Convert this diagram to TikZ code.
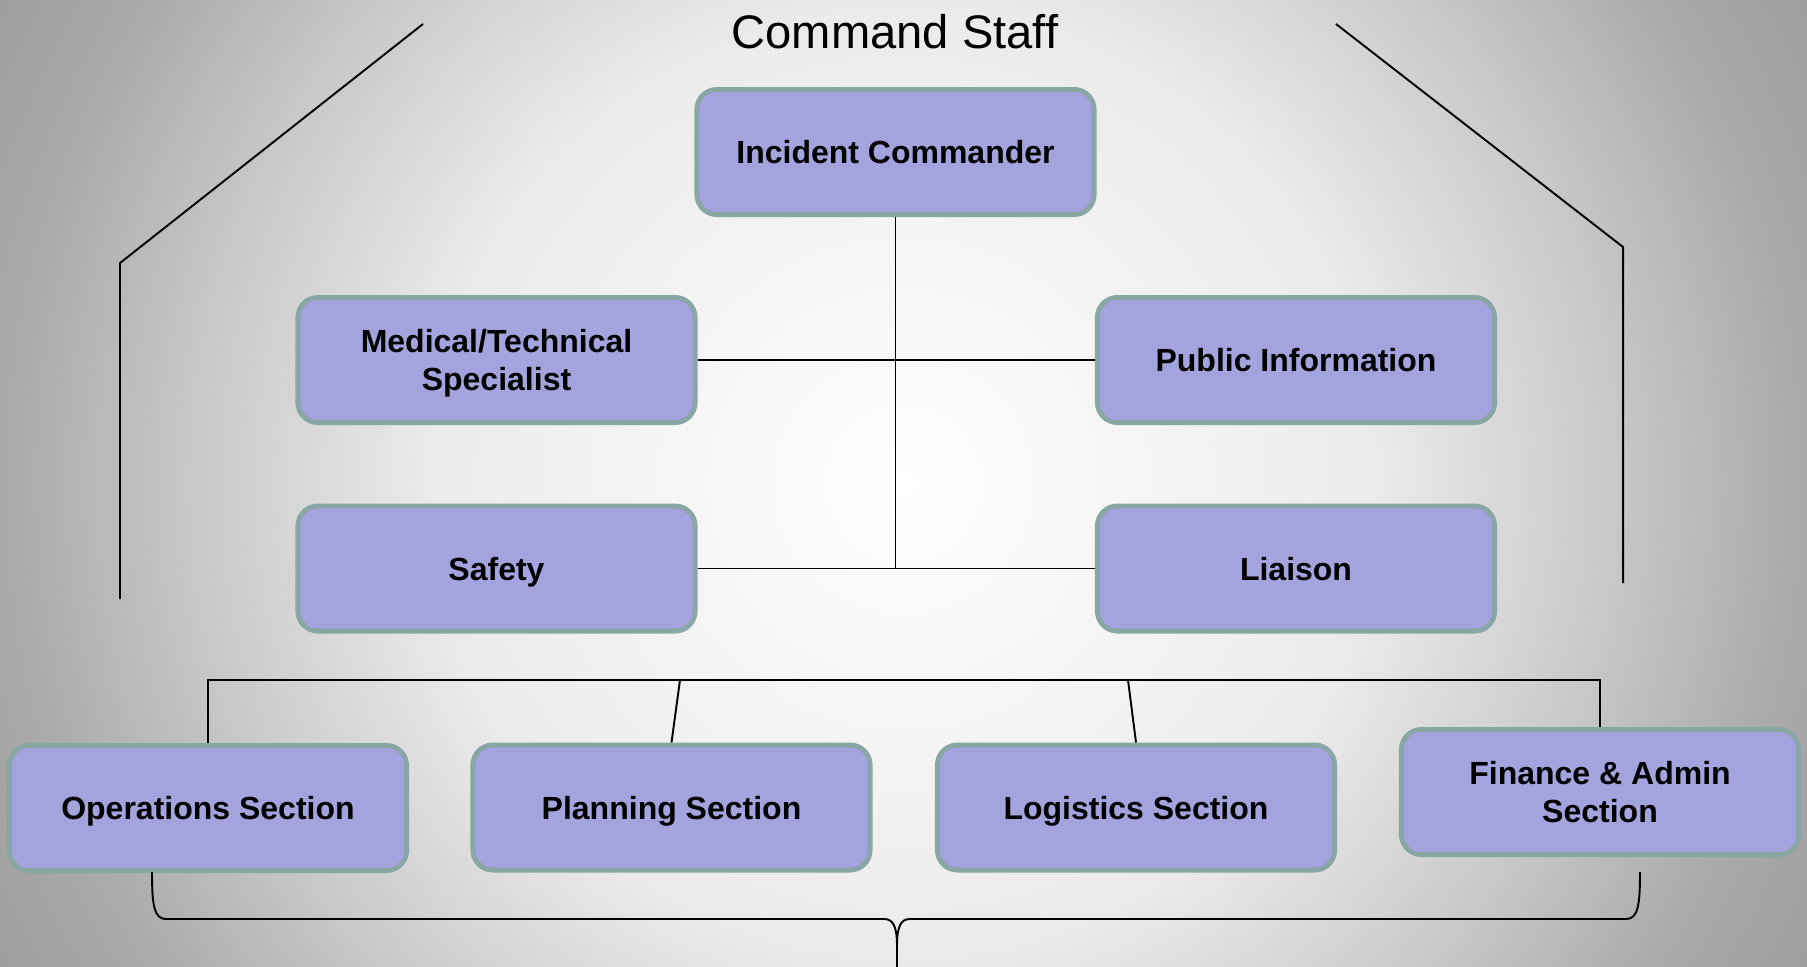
\documentclass[tikz,border=0pt]{standalone}
\usepackage{fontspec}
\setmainfont{Liberation Sans}
\usepackage{tikz}
\usetikzlibrary{positioning}
\usepackage{xcolor}

\definecolor{boxfill}{RGB}{163,163,222}
\definecolor{boxline}{RGB}{136,166,166}
\definecolor{bgA}{gray}{0.92}
\definecolor{bgB}{gray}{0.79}
\definecolor{bgC}{gray}{0.66}
\definecolor{bgD}{gray}{0.62}
\pgfdeclareradialshading{slidebg}{\pgfpoint{0bp}{0bp}}{color(0bp)=(white); color(11.5bp)=(bgA); color(17bp)=(bgB); color(21.9bp)=(bgC); color(25bp)=(bgD); color(50bp)=(bgD)}

\begin{document}
\begin{tikzpicture}[x=0.01cm, y=-0.01cm,
    box/.style={draw=boxline, fill=boxfill, line width=1.4pt, rounded corners=0.2cm,
        minimum width=3.97cm, minimum height=1.25cm, align=center, text depth=0pt,
        font=\bfseries\fontsize{9.1}{10.6}\selectfont},
    link/.style={line width=0.55pt}]
    % Background
    \useasboundingbox (0,0) rectangle (1807,966);
    \begin{scope}
        \clip (0,0) rectangle (1807,966);
        \shade[shading=slidebg] (903,483) circle (1030);
    \end{scope}

    % Command Staff
    \node[font=\fontsize{13.4}{16}\selectfont] (title) at (895,32) {Command Staff};
    \node[box] (ic) at (895.5,152) {Incident Commander};
    \node[box] (medical) at (496.5,360) {Medical/Technical\\Specialist};
    \node[box] (public) at (1296,360) {Public Information};
    \node[box] (safety) at (496.5,568.5) {Safety};
    \node[box] (liaison) at (1296,568.5) {Liaison};

    % General Staff
    \node[box] (ops) at (208,808) {Operations Section};
    \node[box] (planning) at (671.5,807.5) {Planning Section};
    \node[box] (logistics) at (1136,807.5) {Logistics Section};
    \node[box] (finance) at (1600,792) {Finance \& Admin\\Section};

    % Connections
    \draw[link] (ic.south) -- (ic.south |- safety.east);
    \draw[link] (medical) -- (public);
    \draw[link] (safety) -- (liaison);

    \coordinate (busP) at (680,680);
    \coordinate (busL) at (1128,680);
    \draw[link] (ops.north) |- (busP) -- (busL) -| (finance.north);
    \draw[link] (busP) -- (planning.north);
    \draw[link] (busL) -- (logistics.north);

    % Brackets
    \draw[link] (423,24) -- (120,263) -- (120,599);
    \draw[link] (1336,24) -- (1623,247) -- (1623,583);

    % Brace
    \draw[link] (152,872) .. controls (152,905) and (154,919) .. (166,919) -- (884,919)
        .. controls (893,919) and (897,926) .. (897,946) -- (897,970);
    \draw[link] (897,946) .. controls (897,926) and (901,919) .. (910,919) -- (1626,919)
        .. controls (1638,919) and (1640,905) .. (1640,872);
\end{tikzpicture}
\end{document}
